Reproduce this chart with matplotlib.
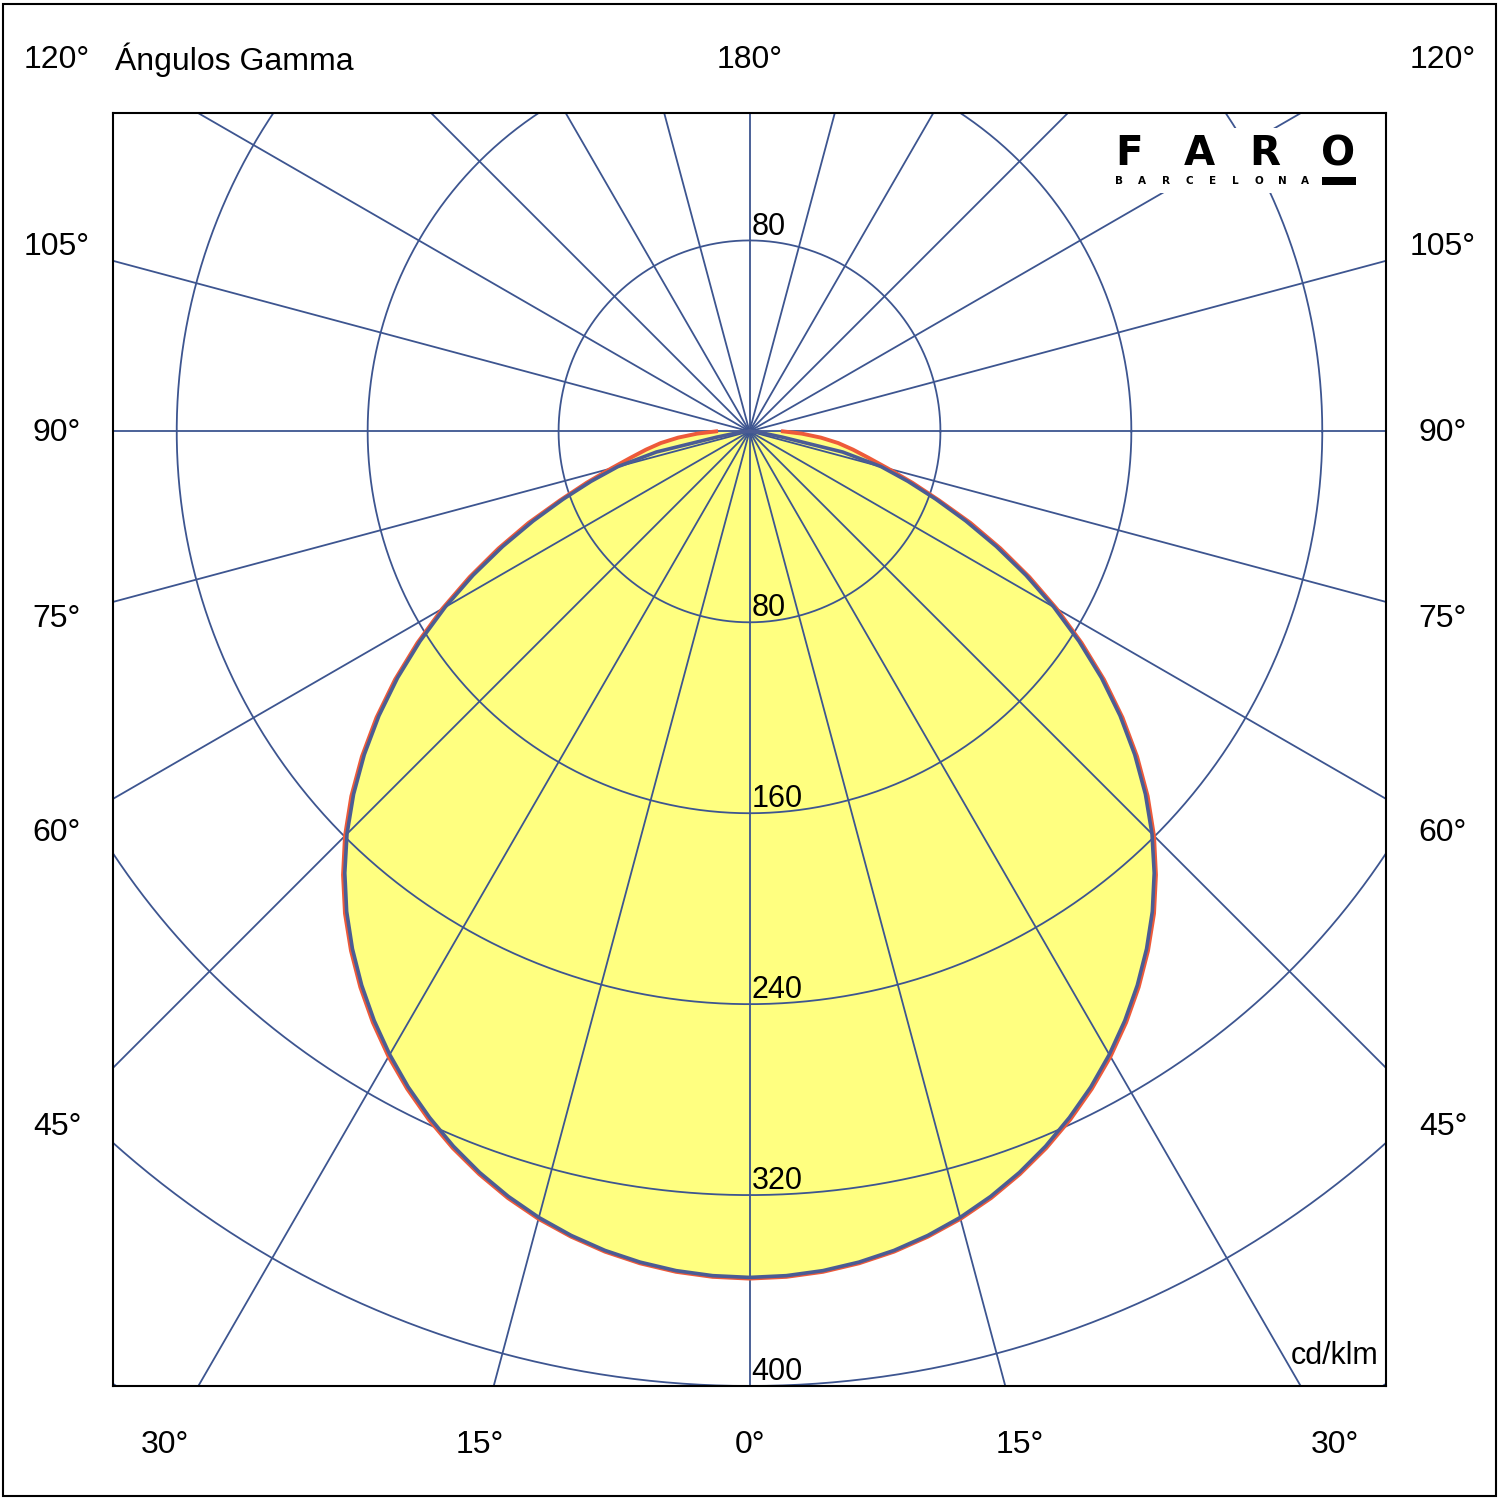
import numpy as np
import matplotlib.pyplot as plt
from matplotlib.patches import Rectangle

plt.rcParams['font.family'] = ['Liberation Sans', 'DejaVu Sans']

# gamma angles (deg) and luminous intensity (cd/klm)
gamma = [0, 2.5, 5, 7.5, 10, 12.5, 15, 17.5, 20, 22.5, 25, 27.5, 30, 32.5, 35, 37.5,
         40, 42.5, 45, 47.5, 50, 52.5, 55, 57.5, 60, 62.5, 65, 67.5, 70, 72.5, 75,
         77.5, 80, 82.5, 85, 87.5, 90]
c0_c180 = [354.5, 354.1, 353.0, 351.1, 348.5, 345.1, 341.0, 336.1, 330.5, 324.2,
           317.2, 309.7, 301.5, 292.7, 283.3, 273.3, 262.6, 251.0, 238.5, 225.0,
           210.7, 195.7, 180.0, 163.7, 147.2, 130.6, 114.1, 98.1, 83.1, 69.6, 57.1,
           40.0, 14.0, 6.0, 3.0, 1.0, 0.0]
c90_c270 = [355.0, 354.6, 353.5, 351.6, 349.0, 345.6, 341.6, 336.8, 331.2, 325.0,
            318.1, 310.6, 302.5, 293.7, 284.3, 274.3, 263.7, 252.1, 239.7, 226.3,
            212.0, 197.0, 181.3, 165.0, 148.6, 132.2, 116.0, 100.2, 84.5, 71.5, 60.0,
            51.0, 44.0, 37.5, 30.0, 22.0, 14.0]

rings = [80, 160, 240, 320, 400, 480]
ring_labels_bottom = ["80", "160", "240", "320", "400"]
ring_label_top = "80"
spoke_step = 15

side_labels = ["120°", "105°", "90°", "75°", "60°", "45°"]
side_label_y = [60, 247, 433, 619, 833, 1127]
bottom_labels = ["30°", "15°", "0°", "15°", "30°"]
bottom_label_x = [165, 480, 750, 1020, 1335]

GRID = '#3D5590'
BLUE = '#4B5C94'
RED = '#EE5A3A'
YELLOW = '#FFFF80'
W = 1500.0


def fx(px):
    return px / W


def fy(py):
    return 1 - py / W


def to_xy(gam, vals):
    # one half-plane drawn on each side of the vertical
    g = np.radians(np.array(gam, dtype=float))
    v = np.array(vals, dtype=float)
    g_full = np.concatenate([-g[::-1], g[1:]])
    v_full = np.concatenate([v[::-1], v[1:]])
    return v_full * np.sin(g_full), -v_full * np.cos(g_full)


fig = plt.figure(figsize=(15, 15), dpi=100)
ax = fig.add_axes([fx(113), 114 / W, 1273 / W, 1273 / W])
ax.set_xlim(-266.7, 266.7)
ax.set_ylim(-400, 133.4)
ax.set_xticks([])
ax.set_yticks([])
for s in ax.spines.values():
    s.set_linewidth(1.5)
    s.set_color('black')
    s.set_zorder(7)

# filled distribution
bx, by = to_xy(gamma, c0_c180)
rx, ry = to_xy(gamma, c90_c270)
ax.fill(rx, ry, color=YELLOW, zorder=1, lw=0)

# polar grid: spokes every 15 deg and rings every 80 cd/klm
for a in range(0, 360, spoke_step):
    t = np.radians(a)
    ax.plot([0, 1000 * np.sin(t)], [0, -1000 * np.cos(t)], color=GRID, lw=1.3, zorder=2)
th = np.linspace(0, 2 * np.pi, 1441)
for r in rings:
    ax.plot(r * np.cos(th), r * np.sin(th), color=GRID, lw=1.3, zorder=2)

ax.plot(rx, ry, color=RED, lw=2.8, zorder=3, solid_joinstyle='round')
ax.plot(bx, by, color=BLUE, lw=2.6, zorder=4, solid_joinstyle='round')

# ring values
for r, lab in zip(rings, ring_labels_bottom):
    ax.annotate(lab, xy=(0, -r), xytext=(1.5, 10), textcoords='offset points',
                fontsize=22, ha='left', va='center', zorder=5)
ax.annotate(ring_label_top, xy=(0, rings[0]), xytext=(1.5, 10), textcoords='offset points',
            fontsize=22, ha='left', va='center', zorder=5)
ax.text(263.5, -387.5, "cd/klm", fontsize=22, ha='right', va='center', zorder=5)

# gamma labels around the frame
for lab, y in zip(side_labels, side_label_y):
    fig.text(fx(57), fy(y), lab, fontsize=23, ha='center', va='center')
    fig.text(fx(1443), fy(y), lab, fontsize=23, ha='center', va='center')
for lab, x in zip(bottom_labels, bottom_label_x):
    fig.text(fx(x), fy(1445), lab, fontsize=23, ha='center', va='center')
fig.text(fx(750), fy(60), "180°", fontsize=23, ha='center', va='center')
fig.text(fx(115), fy(60), "Ángulos Gamma", fontsize=23, ha='left', va='center')

# logo
fig.add_artist(Rectangle((fx(1100), fy(193)), 266 / W, 65 / W, transform=fig.transFigure,
                         facecolor='white', edgecolor='none', zorder=5))
for ch, x in zip("FARO", [1129, 1199, 1265, 1338]):
    fig.text(fx(x), fy(154), ch, fontsize=29, fontweight='bold', family='DejaVu Sans',
             ha='center', va='center', zorder=6)
for i, ch in enumerate("BARCELONA"):
    fig.text(fx(1119 + i * 23.3), fy(180.5), ch, fontsize=7.5, fontweight='bold',
             family='DejaVu Sans', ha='center', va='center', zorder=6)
fig.add_artist(Rectangle((fx(1322), fy(184.5)), 34 / W, 8 / W, transform=fig.transFigure,
                         facecolor='black', edgecolor='none', zorder=6))

# outer border
fig.add_artist(Rectangle((fx(3), 4 / W), 1493 / W, 1492 / W, transform=fig.transFigure,
                         fill=False, edgecolor='black', lw=1.5))

fig.savefig('out.png', dpi=100, facecolor='white')
